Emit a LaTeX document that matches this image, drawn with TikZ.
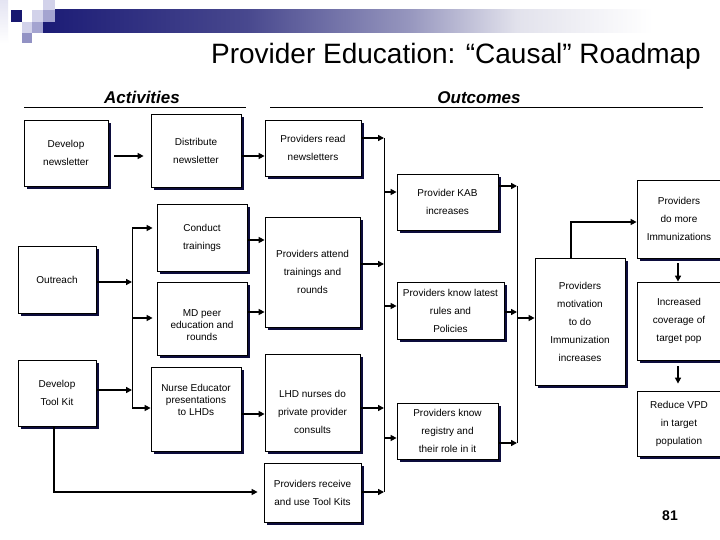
\documentclass[tikz,border=0pt]{standalone}
\usepackage{fontspec}
\setmainfont{Liberation Sans}
\usetikzlibrary{arrows.meta,shadows}
\definecolor{shadowc}{RGB}{12,12,60}
\definecolor{navyd}{RGB}{24,24,112}
\definecolor{lavl}{RGB}{210,210,234}
\definecolor{lavm}{RGB}{164,164,208}
\definecolor{lavd}{RGB}{146,146,196}
\definecolor{barl}{RGB}{28,28,118}
\definecolor{barm}{RGB}{72,72,142}
\definecolor{barn}{RGB}{150,150,190}
\definecolor{barp}{RGB}{226,226,236}
\pgfdeclarehorizontalshading{barshade}{100bp}{color(0bp)=(barl); color(25bp)=(barl); color(40bp)=(barm); color(52bp)=(barn); color(60bp)=(barp); color(70bp)=(white); color(100bp)=(white)}
\begin{document}
\begin{tikzpicture}[x=1pt,y=-1pt,
 box/.style={draw=black,line width=0.8pt,fill=white,inner sep=0pt,align=center,
   font=\fontsize{10}{18}\selectfont,
   drop shadow={shadow xshift=3pt,shadow yshift=-3pt,fill=shadowc,opacity=1}},
 boxtext/.style={inner sep=0pt,align=center,font=\fontsize{10}{12}\selectfont},
 boxtextw/.style={inner sep=0pt,align=center,font=\fontsize{10}{18}\selectfont},
 arr/.style={line width=1.8pt,-{Triangle[length=6pt,width=6pt]}},
 bus/.style={line width=1pt},
 hdr/.style={font=\fontsize{17}{20}\selectfont\bfseries\itshape,anchor=base}]
\useasboundingbox (0,0) rectangle (720,540);
\fill[white] (0,0) rectangle (720,540);
% banner
\shade[shading=barshade] (43,10) rectangle (720,33);
\shade[top color=lavl!60,bottom color=white] (0,0) rectangle (8,43);
\fill[lavl] (43,0) rectangle (55,10);
\fill[navyd] (11,10) rectangle (22,22);
\fill[lavl] (32,10) rectangle (43,22);
\fill[lavm] (43,10) rectangle (55,22);
\fill[lavl] (22,22) rectangle (32,33);
\fill[lavm] (32,22) rectangle (43,33);
\fill[lavd] (22,33) rectangle (32,43);
% title and headers
\node[font=\fontsize{28}{32}\selectfont] (title) at (456,56) {Provider Education: “Causal” Roadmap};
\node[hdr] (acth) at (142,104) {Activities};
\node[hdr] (outh) at (479,104) {Outcomes};
\draw[line width=0.8pt] (24,107) -- (246,107);
\draw[line width=0.8pt] (270,107) -- (703,107);
% boxes
\node[box,minimum width=84,minimum height=66] (dn) at (66,153) {Develop\\newsletter};
\node[box,minimum width=90,minimum height=73] (dist) at (196,150.5) {Distribute\\newsletter};
\node[box,minimum width=96,minimum height=56] (read) at (313,148) {Providers read\\newsletters};
\node[box,minimum width=90,minimum height=67] (conduct) at (202,237.5) {Conduct\\trainings};
\node[box,minimum width=78,minimum height=67] (outreach) at (57,279.5) {Outreach};
\node[box,minimum width=90,minimum height=73] (md) at (202,318.5) {};
\node[boxtext] (mdt) at (202,325) {MD peer\\education and\\rounds};
\node[box,minimum width=90,minimum height=84] (nurse) at (196,409) {};
\node[boxtext] (nurset) at (196,400) {Nurse Educator\\presentations\\to LHDs};
\node[box,minimum width=78,minimum height=66] (toolkit) at (57,393) {Develop\\Tool Kit};
\node[box,minimum width=95,minimum height=110] (attend) at (312.5,272) {Providers attend\\trainings and\\rounds};
\node[box,minimum width=95,minimum height=97] (lhd) at (312.5,402.5) {};
\node[boxtextw] (lhdt) at (312.5,412) {LHD nurses do\\private provider\\consults};
\node[box,minimum width=97,minimum height=59] (receive) at (312.5,492.5) {Providers receive\\and use Tool Kits};
\node[box,minimum width=101,minimum height=56] (kab) at (447.5,202) {Provider KAB\\increases};
\node[box,minimum width=107,minimum height=57] (latest) at (450.5,310.5) {Providers know latest\\rules and\\Policies};
\node[box,minimum width=101,minimum height=56] (registry) at (447.5,431) {Providers know\\registry and\\their role in it};
\node[box,minimum width=90,minimum height=127] (motiv) at (580,321.5) {Providers\\motivation\\to do\\Immunization\\increases};
\node[box,minimum width=84,minimum height=78] (domore) at (679,219) {Providers\\do more\\Immunizations};
\node[box,minimum width=84,minimum height=78] (coverage) at (679,321) {Increased\\coverage of\\target pop};
\node[box,minimum width=84,minimum height=65] (reduce) at (679,423.5) {Reduce VPD\\in target\\population};
\node[font=\fontsize{14}{16}\selectfont\bfseries] (pg) at (670,516) {81};
% bus coordinates
\coordinate (lb1) at (132,228); \coordinate (lb2) at (132,408);
\coordinate (mb1) at (384,138); \coordinate (mb2) at (384,492);
\coordinate (rb1) at (517,186); \coordinate (rb2) at (517,443);
\draw[bus] (lb1) -- (lb2);
\draw[bus] (mb1) -- (mb2);
\draw[bus] (rb1) -- (rb2);
% connectors
\draw[arr,shorten <=6pt,shorten >=7pt] (dn.east |- 0,156) -- (dist.west |- 0,156);
\draw[arr] (dist.east |- 0,156) -- (read.west |- 0,156);
\draw[arr] (outreach.east |- 0,282) -- (lb1 |- 0,282);
\draw[arr] (toolkit.east |- 0,390) -- (lb1 |- 0,390);
\draw[arr,shorten >=4pt] (lb1) -- (conduct.west |- lb1);
\draw[arr,shorten >=4pt] (lb1 |- 0,318) -- (md.west |- 0,318);
\draw[arr] (lb2) -- (nurse.west |- lb2);
\draw[arr] (conduct.east |- 0,240) -- (attend.west |- 0,240);
\draw[arr] (md.east |- 0,312) -- (attend.west |- 0,312);
\draw[arr] (nurse.east |- 0,414) -- (lhd.west |- 0,414);
\draw[arr,shorten >=6pt] (toolkit.south -| 54,0) |- (receive.west |- mb2);
\draw[arr] (read.east |- mb1) -- (mb1);
\draw[arr] (mb1 |- 0,192) -- (kab.west |- 0,192);
\draw[arr] (attend.east |- 0,264) -- (mb1 |- 0,264);
\draw[arr] (mb1 |- 0,306) -- (latest.west |- 0,306);
\draw[arr] (lhd.east |- 0,408) -- (mb1 |- 0,408);
\draw[arr] (mb1 |- 0,438) -- (registry.west |- 0,438);
\draw[arr] (receive.east |- mb2) -- (mb2);
\draw[arr] (kab.east |- rb1) -- (rb1);
\draw[arr] (latest.east |- 0,312) -- (rb1 |- 0,312);
\draw[arr] (registry.east |- rb2) -- (rb2);
\draw[arr] (rb1 |- 0,318) -- (motiv.west |- 0,318);
\draw[arr] (motiv.north -| 571,0) |- (domore.west |- 0,222);
\draw[arr,shorten <=5pt] (domore.south -| 678,0) -- (coverage.north -| 678,0);
\draw[arr,shorten <=6pt,shorten >=7pt] (coverage.south -| 678,0) -- (reduce.north -| 678,0);
\end{tikzpicture}
\end{document}
